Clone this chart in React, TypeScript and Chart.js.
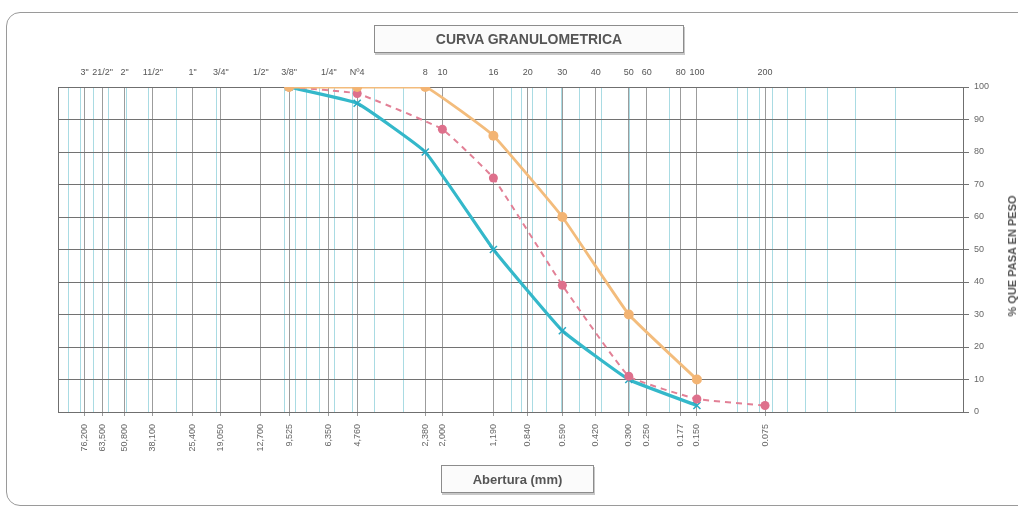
import React, { useEffect, useRef } from 'react';
import { Chart, registerables } from 'chart.js';

Chart.register(...registerables);

// Sieve openings (mm), sieve names (top axis) and opening labels (bottom axis)
const sieveMm = [76.2, 63.5, 50.8, 38.1, 25.4, 19.05, 12.7, 9.525, 6.35, 4.76, 2.38, 2.0, 1.19, 0.84, 0.59, 0.42, 0.3, 0.25, 0.177, 0.15, 0.075];
const sieveNames = ['3"', '21/2"', '2"', '11/2"', '1"', '3/4"', '1/2"', '3/8"', '1/4"', 'Nº4', '8', '10', '16', '20', '30', '40', '50', '60', '80', '100', '200'];
const mmLabels = ['76,200', '63,500', '50,800', '38,100', '25,400', '19,050', '12,700', '9,525', '6,350', '4,760', '2,380', '2,000', '1,190', '0.840', '0.590', '0.420', '0.300', '0.250', '0.177', '0.150', '0.075'];

// Logarithmic minor grid (light cyan lines)
const minorGrid = [
  100, 90, 80, 70, 60, 50, 40, 30, 20, 10,
  9, 8, 7, 6, 5, 4, 3, 2, 1,
  0.9, 0.8, 0.7, 0.6, 0.5, 0.4, 0.3, 0.2, 0.1,
  0.09, 0.08, 0.07, 0.06, 0.05, 0.04, 0.03, 0.02, 0.01,
];

const yTicks = [0, 10, 20, 30, 40, 50, 60, 70, 80, 90, 100];

// Specification limits
const limitSizes = [9.525, 4.76, 2.38, 1.19, 0.59, 0.3, 0.15];
const upperLimit = [100, 100, 100, 85, 60, 30, 10];
const lowerLimit = [100, 95, 80, 50, 25, 10, 2];

// Sample
const sampleSizes = [9.525, 4.76, 2.0, 1.19, 0.59, 0.3, 0.15, 0.075];
const samplePass = [100, 98, 87, 72, 39, 11, 4, 2];

const FONT = "'Liberation Sans', Arial, sans-serif";
const GRID_GRAY = '#9c9c9c';
const GRID_CYAN = '#a9dbe3';

const labelFor = (arr: string[]) => (value: any) => {
  const v = Number(value);
  const i = sieveMm.findIndex((m) => Math.abs(m - v) < 1e-9);
  return i >= 0 ? arr[i] : '';
};

const setSieveTicks = (scale: any) => {
  scale.ticks = sieveMm.map((v) => ({ value: v }));
};

const minorGridPlugin = {
  id: 'minorGrid',
  beforeDraw(chart: any) {
    const { ctx, chartArea, scales } = chart;
    const x = scales.x;
    ctx.save();
    ctx.strokeStyle = GRID_CYAN;
    ctx.lineWidth = 1;
    minorGrid.forEach((v) => {
      const px = Math.round(x.getPixelForValue(v)) + 0.5;
      ctx.beginPath();
      ctx.moveTo(px, chartArea.top);
      ctx.lineTo(px, chartArea.bottom);
      ctx.stroke();
    });
    ctx.restore();
  },
  beforeDatasetsDraw(chart: any) {
    const { ctx, chartArea } = chart;
    ctx.save();
    ctx.strokeStyle = '#6f6f6f';
    ctx.lineWidth = 1;
    ctx.strokeRect(
      Math.round(chartArea.left) + 0.5,
      Math.round(chartArea.top) + 0.5,
      Math.round(chartArea.right - chartArea.left),
      Math.round(chartArea.bottom - chartArea.top)
    );
    ctx.restore();
  },
};

export default function App() {
  const canvasRef = useRef<HTMLCanvasElement | null>(null);

  useEffect(() => {
    if (!canvasRef.current) return;
    const toPoints = (xs: number[], ys: number[]) => xs.map((x, i) => ({ x, y: ys[i] }));

    const chart = new Chart(canvasRef.current, {
      type: 'line',
      data: {
        datasets: [
          {
            label: 'Límite superior',
            data: toPoints(limitSizes, upperLimit),
            borderColor: 'rgb(243,188,124)',
            backgroundColor: 'rgb(243,180,115)',
            borderWidth: 2.8,
            pointRadius: 5,
            pointBorderWidth: 0,
            pointStyle: 'circle',
            tension: 0.1,
            order: 1,
          },
          {
            label: 'Muestra',
            data: toPoints(sampleSizes, samplePass),
            borderColor: 'rgb(226,128,150)',
            backgroundColor: 'rgb(222,112,140)',
            borderWidth: 2,
            borderDash: [6, 5],
            pointRadius: 4.5,
            pointBorderWidth: 0,
            pointStyle: 'circle',
            tension: 0.1,
            order: 2,
          },
          {
            label: 'Límite inferior',
            data: toPoints(limitSizes, lowerLimit),
            borderColor: 'rgb(52,184,202)',
            backgroundColor: 'rgb(52,184,202)',
            borderWidth: 3.2,
            pointRadius: 5,
            pointBorderWidth: 1.5,
            pointBorderColor: 'rgb(40,170,195)',
            pointStyle: 'crossRot',
            tension: 0.1,
            order: 3,
          },
        ],
      },
      options: {
        responsive: false,
        animation: false,
        layout: { padding: { left: 58, right: 0, top: 0, bottom: 0 } },
        plugins: {
          legend: { display: false },
          tooltip: { enabled: false },
          title: { display: false },
        },
        scales: {
          x: {
            type: 'logarithmic',
            position: 'bottom',
            min: 0.01,
            max: 100,
            reverse: true,
            afterBuildTicks: setSieveTicks,
            afterFit: (s: any) => { s.height = 97; },
            grid: { color: GRID_GRAY, lineWidth: 1, drawTicks: true, tickLength: 4, tickColor: GRID_GRAY },
            border: { display: true, color: '#6f6f6f' },
            ticks: {
              autoSkip: false,
              minRotation: 90,
              maxRotation: 90,
              padding: 8,
              color: '#666',
              font: { family: FONT, size: 9 },
              callback: labelFor(mmLabels),
            },
          },
          x2: {
            type: 'logarithmic',
            position: 'top',
            min: 0.01,
            max: 100,
            reverse: true,
            afterBuildTicks: setSieveTicks,
            afterFit: (s: any) => { s.height = 87; },
            grid: { drawOnChartArea: false, drawTicks: false },
            border: { display: true, color: '#6f6f6f' },
            ticks: {
              autoSkip: false,
              minRotation: 0,
              maxRotation: 0,
              padding: 9,
              color: '#555',
              font: { family: FONT, size: 9 },
              callback: labelFor(sieveNames),
            },
          },
          y: {
            type: 'linear',
            position: 'right',
            min: 0,
            max: 100,
            afterBuildTicks: (s: any) => { s.ticks = yTicks.map((v) => ({ value: v })); },
            afterFit: (s: any) => { s.width = 55; },
            grid: { color: '#727272', lineWidth: 1, drawTicks: true, tickLength: 6, tickColor: '#727272' },
            border: { display: true, color: '#6f6f6f' },
            ticks: {
              padding: 5,
              color: '#666',
              font: { family: FONT, size: 9 },
            },
          },
        },
      },
      plugins: [minorGridPlugin],
    } as any);

    return () => chart.destroy();
  }, []);

  const boxText: React.CSSProperties = {
    position: 'absolute',
    display: 'flex',
    alignItems: 'center',
    justifyContent: 'center',
    fontFamily: FONT,
    fontWeight: 'bold',
    color: '#555',
    background: '#fbfbfb',
    border: '1px solid #8c8c8c',
    boxShadow: '1px 2px 0 #c8c8c8',
    boxSizing: 'border-box',
  };

  return (
    <div
      style={{
        position: 'absolute',
        left: 0,
        top: 0,
        width: 1018,
        height: 509,
        overflow: 'hidden',
        background: '#fff',
      }}
    >
      <div
        style={{
          position: 'absolute',
          left: 6,
          top: 12,
          width: 1030,
          height: 494,
          border: '1px solid #9a9a9a',
          borderRadius: 14,
          boxSizing: 'border-box',
        }}
      />
      <canvas ref={canvasRef} width={1018} height={509} style={{ position: 'absolute', left: 0, top: 0 }} />
      <div style={{ ...boxText, left: 374, top: 25, width: 310, height: 28, fontSize: 14 }}>
        CURVA GRANULOMETRICA
      </div>
      <div style={{ ...boxText, left: 441, top: 465, width: 153, height: 28, fontSize: 13 }}>
        Abertura (mm)
      </div>
      <div
        style={{
          position: 'absolute',
          left: 1012,
          top: 256,
          transform: 'translate(-50%, -50%) rotate(-90deg)',
          whiteSpace: 'nowrap',
          fontFamily: FONT,
          fontWeight: 'bold',
          fontSize: 11,
          color: '#555',
        }}
      >
        % QUE PASA EN PESO
      </div>
    </div>
  );
}
